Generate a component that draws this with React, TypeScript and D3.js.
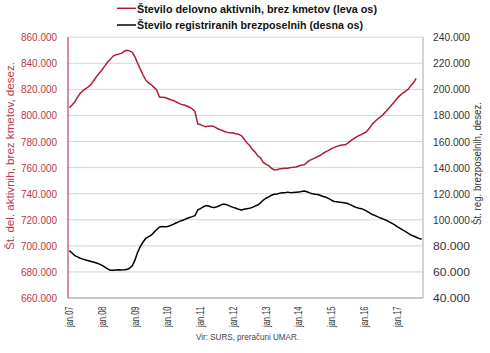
import React from 'react';
import * as d3 from 'd3';

// Monthly, seasonally adjusted, in thousands (jan.07 onward)
const employed = [
  806, 808, 810.5, 814, 817, 819, 820.5, 822, 824, 827, 830, 832.5,
  835, 838, 841, 843, 845.5, 846.5, 847, 847.6, 849, 850, 849.5, 848.5,
  845, 840, 835.5, 831, 827, 825, 823.5, 821.5, 819.5, 814, 814, 813.8,
  813, 812, 811.5, 810.5, 809.5, 808.5, 808, 807.2, 806.3, 805, 803, 793.5,
  793, 792, 791.4, 791.8, 792, 791.5, 790.2, 789.2, 788.5, 787.5, 787, 786.8,
  786.5, 786, 785.5, 784.5, 782, 779, 777, 774, 772, 769, 767.5, 764,
  762.5, 761.5, 759.5, 758.2, 758.3, 759, 759.3, 759.5, 759.5, 760, 760.2, 760.5,
  761.2, 761.8, 762.2, 764, 765.5, 766.5, 767.5, 768.5, 769.5, 771, 772.2, 773.2,
  774.5, 775.5, 776.3, 777, 777.3, 777.5, 778.8, 780.5, 782, 783.3, 784.5, 785.5,
  786.5, 788, 790.5, 793.5, 795.5, 797.5, 799, 801, 803.2, 805.5, 808, 810.5,
  813, 815.2, 817, 818.5, 820, 822.5, 825, 828.5,
];

const unemployed = [
  76.3, 74.5, 72.5, 71.5, 70.5, 69.8, 69.1, 68.6, 68, 67.4, 66.8, 66,
  65, 63.6, 62.3, 61.3, 61.2, 61.5, 61.6, 61.5, 61.6, 61.8, 62.8, 64.5,
  69, 75, 79.5, 83, 85.8, 87, 88.2, 90.5, 92.5, 94.5, 94.8, 94.6,
  94.8, 95.6, 96.5, 97.5, 98.4, 99.3, 100, 101, 101.7, 102.4, 103.2, 107.5,
  108.5, 109.8, 110.8, 110.5, 109.8, 109.3, 110, 110.8, 111.8, 111.9, 111.2, 110.3,
  109.5, 108.8, 108, 107.5, 108, 108.5, 108.8, 109.5, 110.5, 111.3, 113, 115,
  116.5, 117.6, 118.8, 119.5, 119.8, 120.3, 120.8, 120.8, 121.2, 120.8, 121, 121.1,
  121.2, 121.6, 122, 121.5, 120.6, 120, 119.6, 119.4, 118.6, 117.8, 117.2, 116.2,
  115, 114, 113.8, 113.5, 113.2, 112.8, 112.4, 111.4, 110.4, 109.5, 108.8, 108.5,
  107.6, 106.5, 105.2, 104, 103.2, 102.2, 101.3, 100.5, 99.6, 98.6, 97.4, 96.2,
  94.8, 93.6, 92.3, 91.1, 89.8, 88.4, 87.5, 86.6, 85.7, 85,
];

const yearLabels = ['jan.07', 'jan.08', 'jan.09', 'jan.10', 'jan.11', 'jan.12', 'jan.13', 'jan.14', 'jan.15', 'jan.16', 'jan.17'];
const leftTicks = [660, 680, 700, 720, 740, 760, 780, 800, 820, 840, 860];
const rightTicks = [40, 60, 80, 100, 120, 140, 160, 180, 200, 220, 240];

const RED = '#b01c36';
const RED_TEXT = '#b9374a';
const FONT = '"Liberation Sans", Arial, sans-serif';

const left = 68;
const right = 423;
const top = 37.2;
const bottom = 298;
const nMonths = 130;

const fmt = (v: number) => d3.format(',.3f')(v).replace(/,/g, '.');

export default function App() {
  const x = d3.scaleBand<number>().domain(d3.range(nMonths)).range([left, right]).paddingInner(0);
  const xc = (i: number) => (x(i) || 0) + x.bandwidth() / 2;
  const yL = d3.scaleLinear().domain([660, 860]).range([bottom, top]);
  const yR = d3.scaleLinear().domain([40, 240]).range([bottom, top]);

  const redLine = d3.line<number>().x((_, i) => xc(i)).y(d => yL(d));
  const blackLine = d3.line<number>().x((_, i) => xc(i)).y(d => yR(d));

  return (
    <svg width={490} height={353} style={{ position: 'absolute', left: 0, top: 0, background: '#fff' }} fontFamily={FONT}>
      {/* legend */}
      <line x1={117} x2={136} y1={8.3} y2={8.3} stroke={RED} strokeWidth={1.5} />
      <text x={137} y={12.6} fontSize={11.5} fontWeight="bold" fill="#111" textLength={240} lengthAdjust="spacingAndGlyphs">
        Število delovno aktivnih, brez kmetov (leva os)
      </text>
      <line x1={117} x2={136} y1={25} y2={25} stroke="#000" strokeWidth={1.5} />
      <text x={137} y={29.3} fontSize={11.5} fontWeight="bold" fill="#111" textLength={226} lengthAdjust="spacingAndGlyphs">
        Število registriranih brezposelnih (desna os)
      </text>

      {/* gridlines */}
      {leftTicks.map(t => (
        <line key={t} x1={left} x2={right} y1={yL(t)} y2={yL(t)} stroke="#d4d4d4" strokeWidth={1} />
      ))}

      {/* axes */}
      <line x1={left} x2={right} y1={bottom} y2={bottom} stroke="#a8a8a8" />
      <line x1={right} x2={right} y1={top} y2={bottom} stroke="#a8a8a8" />
      <line x1={left} x2={left} y1={top} y2={bottom} stroke={RED} />

      {leftTicks.map(t => (
        <text key={t} x={57} y={yL(t) + 4} fontSize={11} textAnchor="end" fill={RED_TEXT} textLength={36} lengthAdjust="spacingAndGlyphs">
          {fmt(t)}
        </text>
      ))}
      {rightTicks.map(t => (
        <text key={t} x={433} y={yR(t) + 4} fontSize={11} fill="#333" textLength={37} lengthAdjust="spacingAndGlyphs">
          {fmt(t)}
        </text>
      ))}

      {yearLabels.map((lab, k) => (
        <text
          key={lab}
          transform={`translate(${xc(k * 12) + 3.6},306.5) rotate(-90)`}
          fontSize={10.5}
          textAnchor="end"
          fill="#333"
          textLength={20.5}
          lengthAdjust="spacingAndGlyphs"
        >
          {lab}
        </text>
      ))}

      {/* axis titles */}
      <text transform="translate(14,156) rotate(-90)" fontSize={11} textAnchor="middle" fill={RED_TEXT} textLength={188} lengthAdjust="spacingAndGlyphs">
        Št. del. aktivnih, brez kmetov, desez.
      </text>
      <text transform="translate(481,163.5) rotate(-90)" fontSize={11} textAnchor="middle" fill="#333" textLength={123} lengthAdjust="spacingAndGlyphs">
        Št. reg. brezposelnih, desez.
      </text>

      {/* series */}
      <path d={redLine(employed) || ''} fill="none" stroke={RED} strokeWidth={1.5} strokeLinejoin="round" />
      <path d={blackLine(unemployed) || ''} fill="none" stroke="#000" strokeWidth={1.5} strokeLinejoin="round" />

      <text x={247.5} y={340} fontSize={9} textAnchor="middle" fill="#444" textLength={103} lengthAdjust="spacingAndGlyphs">
        Vir: SURS, preračuni UMAR.
      </text>
    </svg>
  );
}
